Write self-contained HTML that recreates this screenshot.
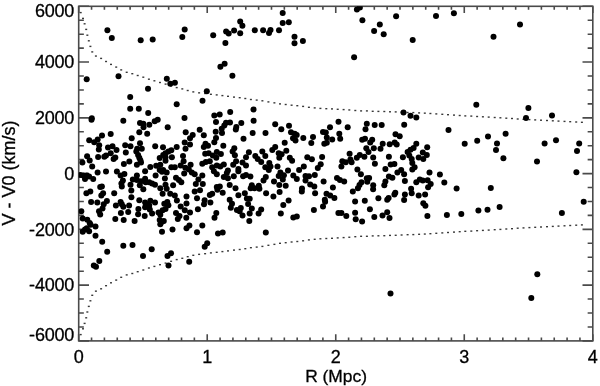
<!DOCTYPE html>
<html><head><meta charset="utf-8"><style>html,body{margin:0;padding:0;background:#fff;width:600px;height:386px;overflow:hidden}svg{display:block}</style></head>
<body><svg style="will-change:transform" width="600" height="386" viewBox="0 0 600 386">
<rect x="78.7" y="6.3" width="514.0999999999999" height="334.59999999999997" fill="none" stroke="#4a4a4a" stroke-width="1.6"/>
<path d="M78.70 340.9v-6.7M78.70 6.3v6.7M91.55 340.9v-3.35M91.55 6.3v3.35M104.41 340.9v-3.35M104.41 6.3v3.35M117.26 340.9v-3.35M117.26 6.3v3.35M130.11 340.9v-3.35M130.11 6.3v3.35M142.96 340.9v-3.35M142.96 6.3v3.35M155.81 340.9v-3.35M155.81 6.3v3.35M168.67 340.9v-3.35M168.67 6.3v3.35M181.52 340.9v-3.35M181.52 6.3v3.35M194.37 340.9v-3.35M194.37 6.3v3.35M207.22 340.9v-6.7M207.22 6.3v6.7M220.08 340.9v-3.35M220.08 6.3v3.35M232.93 340.9v-3.35M232.93 6.3v3.35M245.78 340.9v-3.35M245.78 6.3v3.35M258.63 340.9v-3.35M258.63 6.3v3.35M271.49 340.9v-3.35M271.49 6.3v3.35M284.34 340.9v-3.35M284.34 6.3v3.35M297.19 340.9v-3.35M297.19 6.3v3.35M310.04 340.9v-3.35M310.04 6.3v3.35M322.90 340.9v-3.35M322.90 6.3v3.35M335.75 340.9v-6.7M335.75 6.3v6.7M348.60 340.9v-3.35M348.60 6.3v3.35M361.45 340.9v-3.35M361.45 6.3v3.35M374.31 340.9v-3.35M374.31 6.3v3.35M387.16 340.9v-3.35M387.16 6.3v3.35M400.01 340.9v-3.35M400.01 6.3v3.35M412.86 340.9v-3.35M412.86 6.3v3.35M425.72 340.9v-3.35M425.72 6.3v3.35M438.57 340.9v-3.35M438.57 6.3v3.35M451.42 340.9v-3.35M451.42 6.3v3.35M464.27 340.9v-6.7M464.27 6.3v6.7M477.13 340.9v-3.35M477.13 6.3v3.35M489.98 340.9v-3.35M489.98 6.3v3.35M502.83 340.9v-3.35M502.83 6.3v3.35M515.68 340.9v-3.35M515.68 6.3v3.35M528.54 340.9v-3.35M528.54 6.3v3.35M541.39 340.9v-3.35M541.39 6.3v3.35M554.24 340.9v-3.35M554.24 6.3v3.35M567.09 340.9v-3.35M567.09 6.3v3.35M579.95 340.9v-3.35M579.95 6.3v3.35M592.80 340.9v-6.7M592.80 6.3v6.7M78.7 6.30h10.3M592.8 6.30h-10.3M78.7 20.24h5.15M592.8 20.24h-5.15M78.7 34.18h5.15M592.8 34.18h-5.15M78.7 48.12h5.15M592.8 48.12h-5.15M78.7 62.07h10.3M592.8 62.07h-10.3M78.7 76.01h5.15M592.8 76.01h-5.15M78.7 89.95h5.15M592.8 89.95h-5.15M78.7 103.89h5.15M592.8 103.89h-5.15M78.7 117.83h10.3M592.8 117.83h-10.3M78.7 131.77h5.15M592.8 131.77h-5.15M78.7 145.72h5.15M592.8 145.72h-5.15M78.7 159.66h5.15M592.8 159.66h-5.15M78.7 173.60h10.3M592.8 173.60h-10.3M78.7 187.54h5.15M592.8 187.54h-5.15M78.7 201.48h5.15M592.8 201.48h-5.15M78.7 215.42h5.15M592.8 215.42h-5.15M78.7 229.37h10.3M592.8 229.37h-10.3M78.7 243.31h5.15M592.8 243.31h-5.15M78.7 257.25h5.15M592.8 257.25h-5.15M78.7 271.19h5.15M592.8 271.19h-5.15M78.7 285.13h10.3M592.8 285.13h-10.3M78.7 299.07h5.15M592.8 299.07h-5.15M78.7 313.02h5.15M592.8 313.02h-5.15M78.7 326.96h5.15M592.8 326.96h-5.15M78.7 340.90h10.3M592.8 340.90h-10.3" stroke="#4a4a4a" stroke-width="1.6" fill="none"/>
<g fill="#383838"><rect x="79.70" y="11.90" width="2" height="1.4"/><rect x="79.70" y="333.90" width="2" height="1.4"/><rect x="82.00" y="17.70" width="2" height="1.4"/><rect x="82.00" y="328.10" width="2" height="1.4"/><rect x="83.60" y="23.10" width="2" height="1.4"/><rect x="83.60" y="322.70" width="2" height="1.4"/><rect x="85.20" y="28.70" width="2" height="1.4"/><rect x="85.20" y="317.10" width="2" height="1.4"/><rect x="86.35" y="34.50" width="2" height="1.4"/><rect x="86.35" y="311.30" width="2" height="1.4"/><rect x="87.80" y="40.10" width="2" height="1.4"/><rect x="87.80" y="305.70" width="2" height="1.4"/><rect x="89.40" y="45.70" width="2" height="1.4"/><rect x="89.40" y="300.10" width="2" height="1.4"/><rect x="91.25" y="51.20" width="2" height="1.4"/><rect x="91.25" y="294.60" width="2" height="1.4"/><rect x="94.90" y="55.35" width="2" height="1.4"/><rect x="94.90" y="290.45" width="2" height="1.4"/><rect x="100.10" y="57.70" width="2" height="1.4"/><rect x="100.10" y="288.10" width="2" height="1.4"/><rect x="105.05" y="60.80" width="2" height="1.4"/><rect x="105.05" y="285.00" width="2" height="1.4"/><rect x="110.00" y="63.70" width="2" height="1.4"/><rect x="110.00" y="282.10" width="2" height="1.4"/><rect x="115.20" y="66.40" width="2" height="1.4"/><rect x="115.20" y="279.40" width="2" height="1.4"/><rect x="120.20" y="69.20" width="2" height="1.4"/><rect x="120.20" y="276.60" width="2" height="1.4"/><rect x="125.70" y="71.60" width="2" height="1.4"/><rect x="125.70" y="274.20" width="2" height="1.4"/><rect x="131.30" y="73.00" width="2" height="1.4"/><rect x="131.30" y="272.80" width="2" height="1.4"/><rect x="136.70" y="74.80" width="2" height="1.4"/><rect x="136.70" y="271.00" width="2" height="1.4"/><rect x="142.30" y="76.50" width="2" height="1.4"/><rect x="142.30" y="269.30" width="2" height="1.4"/><rect x="147.90" y="78.50" width="2" height="1.4"/><rect x="147.90" y="267.30" width="2" height="1.4"/><rect x="153.40" y="80.10" width="2" height="1.4"/><rect x="153.40" y="265.70" width="2" height="1.4"/><rect x="159.00" y="81.80" width="2" height="1.4"/><rect x="159.00" y="264.00" width="2" height="1.4"/><rect x="164.60" y="83.40" width="2" height="1.4"/><rect x="164.60" y="262.40" width="2" height="1.4"/><rect x="170.10" y="85.20" width="2" height="1.4"/><rect x="170.10" y="260.60" width="2" height="1.4"/><rect x="175.70" y="86.90" width="2" height="1.4"/><rect x="175.70" y="258.90" width="2" height="1.4"/><rect x="181.30" y="88.20" width="2" height="1.4"/><rect x="181.30" y="257.60" width="2" height="1.4"/><rect x="186.70" y="89.80" width="2" height="1.4"/><rect x="186.70" y="256.00" width="2" height="1.4"/><rect x="192.30" y="91.20" width="2" height="1.4"/><rect x="192.30" y="254.60" width="2" height="1.4"/><rect x="198.10" y="92.15" width="2" height="1.4"/><rect x="198.10" y="253.65" width="2" height="1.4"/><rect x="204.10" y="92.80" width="2" height="1.4"/><rect x="204.10" y="253.00" width="2" height="1.4"/><rect x="209.90" y="93.60" width="2" height="1.4"/><rect x="209.90" y="252.20" width="2" height="1.4"/><rect x="215.70" y="94.20" width="2" height="1.4"/><rect x="215.70" y="251.60" width="2" height="1.4"/><rect x="221.40" y="94.90" width="2" height="1.4"/><rect x="221.40" y="250.90" width="2" height="1.4"/><rect x="227.00" y="95.60" width="2" height="1.4"/><rect x="227.00" y="250.20" width="2" height="1.4"/><rect x="233.00" y="96.40" width="2" height="1.4"/><rect x="233.00" y="249.40" width="2" height="1.4"/><rect x="238.70" y="97.00" width="2" height="1.4"/><rect x="238.70" y="248.80" width="2" height="1.4"/><rect x="244.30" y="97.80" width="2" height="1.4"/><rect x="244.30" y="248.00" width="2" height="1.4"/><rect x="249.90" y="98.80" width="2" height="1.4"/><rect x="249.90" y="247.00" width="2" height="1.4"/><rect x="255.70" y="99.40" width="2" height="1.4"/><rect x="255.70" y="246.40" width="2" height="1.4"/><rect x="261.40" y="100.10" width="2" height="1.4"/><rect x="261.40" y="245.70" width="2" height="1.4"/><rect x="267.40" y="101.20" width="2" height="1.4"/><rect x="267.40" y="244.60" width="2" height="1.4"/><rect x="273.40" y="102.15" width="2" height="1.4"/><rect x="273.40" y="243.65" width="2" height="1.4"/><rect x="279.00" y="103.20" width="2" height="1.4"/><rect x="279.00" y="242.60" width="2" height="1.4"/><rect x="284.70" y="103.80" width="2" height="1.4"/><rect x="284.70" y="242.00" width="2" height="1.4"/><rect x="290.60" y="104.50" width="2" height="1.4"/><rect x="290.60" y="241.30" width="2" height="1.4"/><rect x="296.30" y="105.00" width="2" height="1.4"/><rect x="296.30" y="240.80" width="2" height="1.4"/><rect x="302.10" y="105.70" width="2" height="1.4"/><rect x="302.10" y="240.10" width="2" height="1.4"/><rect x="307.90" y="106.60" width="2" height="1.4"/><rect x="307.90" y="239.20" width="2" height="1.4"/><rect x="313.70" y="107.20" width="2" height="1.4"/><rect x="313.70" y="238.60" width="2" height="1.4"/><rect x="319.40" y="107.70" width="2" height="1.4"/><rect x="319.40" y="238.10" width="2" height="1.4"/><rect x="325.30" y="108.00" width="2" height="1.4"/><rect x="325.30" y="237.80" width="2" height="1.4"/><rect x="331.00" y="108.20" width="2" height="1.4"/><rect x="331.00" y="237.60" width="2" height="1.4"/><rect x="336.70" y="108.60" width="2" height="1.4"/><rect x="336.70" y="237.20" width="2" height="1.4"/><rect x="342.60" y="108.90" width="2" height="1.4"/><rect x="342.60" y="236.90" width="2" height="1.4"/><rect x="348.30" y="109.25" width="2" height="1.4"/><rect x="348.30" y="236.55" width="2" height="1.4"/><rect x="354.30" y="109.80" width="2" height="1.4"/><rect x="354.30" y="236.00" width="2" height="1.4"/><rect x="360.10" y="110.20" width="2" height="1.4"/><rect x="360.10" y="235.60" width="2" height="1.4"/><rect x="365.90" y="110.20" width="2" height="1.4"/><rect x="365.90" y="235.60" width="2" height="1.4"/><rect x="371.70" y="110.60" width="2" height="1.4"/><rect x="371.70" y="235.20" width="2" height="1.4"/><rect x="377.40" y="110.70" width="2" height="1.4"/><rect x="377.40" y="235.10" width="2" height="1.4"/><rect x="383.30" y="110.80" width="2" height="1.4"/><rect x="383.30" y="235.00" width="2" height="1.4"/><rect x="389.00" y="111.10" width="2" height="1.4"/><rect x="389.00" y="234.70" width="2" height="1.4"/><rect x="394.70" y="111.20" width="2" height="1.4"/><rect x="394.70" y="234.60" width="2" height="1.4"/><rect x="400.60" y="111.50" width="2" height="1.4"/><rect x="400.60" y="234.30" width="2" height="1.4"/><rect x="406.60" y="111.80" width="2" height="1.4"/><rect x="406.60" y="234.00" width="2" height="1.4"/><rect x="412.30" y="111.90" width="2" height="1.4"/><rect x="412.30" y="233.90" width="2" height="1.4"/><rect x="418.10" y="112.20" width="2" height="1.4"/><rect x="418.10" y="233.60" width="2" height="1.4"/><rect x="423.80" y="112.45" width="2" height="1.4"/><rect x="423.80" y="233.35" width="2" height="1.4"/><rect x="429.40" y="112.80" width="2" height="1.4"/><rect x="429.40" y="233.00" width="2" height="1.4"/><rect x="435.30" y="113.20" width="2" height="1.4"/><rect x="435.30" y="232.60" width="2" height="1.4"/><rect x="441.30" y="113.60" width="2" height="1.4"/><rect x="441.30" y="232.20" width="2" height="1.4"/><rect x="447.00" y="114.00" width="2" height="1.4"/><rect x="447.00" y="231.80" width="2" height="1.4"/><rect x="453.00" y="114.40" width="2" height="1.4"/><rect x="453.00" y="231.40" width="2" height="1.4"/><rect x="458.70" y="114.80" width="2" height="1.4"/><rect x="458.70" y="231.00" width="2" height="1.4"/><rect x="464.30" y="115.20" width="2" height="1.4"/><rect x="464.30" y="230.60" width="2" height="1.4"/><rect x="470.30" y="115.40" width="2" height="1.4"/><rect x="470.30" y="230.40" width="2" height="1.4"/><rect x="476.10" y="115.80" width="2" height="1.4"/><rect x="476.10" y="230.00" width="2" height="1.4"/><rect x="481.90" y="116.10" width="2" height="1.4"/><rect x="481.90" y="229.70" width="2" height="1.4"/><rect x="487.70" y="116.40" width="2" height="1.4"/><rect x="487.70" y="229.40" width="2" height="1.4"/><rect x="493.70" y="116.80" width="2" height="1.4"/><rect x="493.70" y="229.00" width="2" height="1.4"/><rect x="499.40" y="117.10" width="2" height="1.4"/><rect x="499.40" y="228.70" width="2" height="1.4"/><rect x="505.30" y="117.50" width="2" height="1.4"/><rect x="505.30" y="228.30" width="2" height="1.4"/><rect x="511.00" y="117.80" width="2" height="1.4"/><rect x="511.00" y="228.00" width="2" height="1.4"/><rect x="516.70" y="118.30" width="2" height="1.4"/><rect x="516.70" y="227.50" width="2" height="1.4"/><rect x="522.50" y="118.60" width="2" height="1.4"/><rect x="522.50" y="227.20" width="2" height="1.4"/><rect x="528.40" y="118.90" width="2" height="1.4"/><rect x="528.40" y="226.90" width="2" height="1.4"/><rect x="534.20" y="119.20" width="2" height="1.4"/><rect x="534.20" y="226.60" width="2" height="1.4"/><rect x="540.00" y="119.50" width="2" height="1.4"/><rect x="540.00" y="226.30" width="2" height="1.4"/><rect x="546.00" y="119.80" width="2" height="1.4"/><rect x="546.00" y="226.00" width="2" height="1.4"/><rect x="551.80" y="120.10" width="2" height="1.4"/><rect x="551.80" y="225.70" width="2" height="1.4"/><rect x="557.50" y="120.40" width="2" height="1.4"/><rect x="557.50" y="225.40" width="2" height="1.4"/><rect x="563.50" y="120.70" width="2" height="1.4"/><rect x="563.50" y="225.10" width="2" height="1.4"/><rect x="569.20" y="121.00" width="2" height="1.4"/><rect x="569.20" y="224.80" width="2" height="1.4"/><rect x="575.20" y="121.30" width="2" height="1.4"/><rect x="575.20" y="224.50" width="2" height="1.4"/><rect x="580.90" y="121.60" width="2" height="1.4"/><rect x="580.90" y="224.20" width="2" height="1.4"/></g>
<defs><clipPath id="c"><rect x="78.7" y="6.3" width="514.0999999999999" height="334.59999999999997"/></clipPath></defs>
<g fill="#000" clip-path="url(#c)"><circle cx="107.4" cy="30.3" r="3.0"/><circle cx="111.8" cy="37.9" r="3.0"/><circle cx="140.7" cy="40.3" r="3.0"/><circle cx="152.7" cy="39.4" r="3.0"/><circle cx="184.7" cy="29.4" r="3.0"/><circle cx="182.3" cy="37.0" r="3.0"/><circle cx="86.7" cy="79.3" r="3.0"/><circle cx="118.5" cy="76.2" r="3.0"/><circle cx="166.8" cy="78.8" r="3.0"/><circle cx="170.3" cy="83.8" r="3.0"/><circle cx="174.9" cy="82.7" r="3.0"/><circle cx="213.2" cy="35.3" r="3.0"/><circle cx="225.4" cy="42.9" r="3.0"/><circle cx="226.1" cy="31.4" r="3.0"/><circle cx="228.7" cy="33.5" r="3.0"/><circle cx="234.1" cy="30.5" r="3.0"/><circle cx="240.2" cy="21.6" r="3.0"/><circle cx="242.4" cy="25.7" r="3.0"/><circle cx="240.2" cy="33.3" r="3.0"/><circle cx="254.8" cy="30.3" r="3.0"/><circle cx="263.1" cy="30.3" r="3.0"/><circle cx="269.0" cy="32.9" r="3.0"/><circle cx="270.5" cy="30.0" r="3.0"/><circle cx="279.0" cy="30.3" r="3.0"/><circle cx="282.7" cy="13.1" r="3.0"/><circle cx="282.7" cy="23.1" r="3.0"/><circle cx="288.8" cy="22.2" r="3.0"/><circle cx="294.5" cy="36.8" r="3.0"/><circle cx="294.5" cy="43.3" r="3.0"/><circle cx="302.9" cy="40.9" r="3.0"/><circle cx="220.4" cy="66.8" r="3.0"/><circle cx="224.6" cy="63.8" r="3.0"/><circle cx="232.4" cy="75.8" r="3.0"/><circle cx="356.9" cy="9.4" r="3.0"/><circle cx="359.8" cy="7.6" r="3.0"/><circle cx="362.4" cy="20.2" r="3.0"/><circle cx="379.8" cy="24.6" r="3.0"/><circle cx="374.1" cy="30.9" r="3.0"/><circle cx="383.7" cy="34.2" r="3.0"/><circle cx="396.1" cy="16.3" r="3.0"/><circle cx="412.7" cy="40.1" r="3.0"/><circle cx="436.0" cy="16.1" r="3.0"/><circle cx="453.9" cy="13.3" r="3.0"/><circle cx="354.1" cy="57.3" r="3.0"/><circle cx="493.5" cy="36.8" r="3.0"/><circle cx="520.0" cy="24.4" r="3.0"/><circle cx="148.0" cy="88.7" r="3.0"/><circle cx="176.7" cy="104.2" r="3.0"/><circle cx="130.2" cy="97.0" r="3.0"/><circle cx="130.2" cy="108.8" r="3.0"/><circle cx="138.8" cy="108.8" r="3.0"/><circle cx="148.2" cy="113.0" r="3.0"/><circle cx="91.8" cy="118.3" r="3.0"/><circle cx="91.5" cy="119.8" r="3.0"/><circle cx="123.3" cy="120.8" r="3.0"/><circle cx="140.0" cy="123.0" r="3.0"/><circle cx="143.3" cy="123.7" r="3.0"/><circle cx="143.5" cy="127.2" r="3.0"/><circle cx="149.3" cy="124.7" r="3.0"/><circle cx="154.7" cy="121.3" r="3.0"/><circle cx="157.7" cy="119.7" r="3.0"/><circle cx="167.7" cy="127.2" r="3.0"/><circle cx="102.0" cy="135.5" r="3.0"/><circle cx="110.7" cy="134.0" r="3.0"/><circle cx="139.3" cy="132.2" r="3.0"/><circle cx="147.2" cy="133.7" r="3.0"/><circle cx="131.7" cy="138.3" r="3.0"/><circle cx="89.2" cy="140.3" r="3.0"/><circle cx="94.2" cy="142.3" r="3.0"/><circle cx="97.7" cy="139.5" r="3.0"/><circle cx="99.2" cy="145.3" r="3.0"/><circle cx="108.0" cy="147.5" r="3.0"/><circle cx="112.5" cy="146.3" r="3.0"/><circle cx="116.5" cy="150.0" r="3.0"/><circle cx="125.2" cy="145.3" r="3.0"/><circle cx="130.5" cy="146.3" r="3.0"/><circle cx="140.0" cy="143.3" r="3.0"/><circle cx="137.2" cy="148.7" r="3.0"/><circle cx="141.8" cy="148.7" r="3.0"/><circle cx="155.2" cy="146.3" r="3.0"/><circle cx="163.0" cy="147.2" r="3.0"/><circle cx="176.7" cy="147.0" r="3.0"/><circle cx="206.8" cy="91.3" r="3.0"/><circle cx="202.5" cy="100.8" r="3.0"/><circle cx="184.5" cy="118.0" r="3.0"/><circle cx="214.3" cy="115.5" r="3.0"/><circle cx="219.7" cy="114.5" r="3.0"/><circle cx="230.2" cy="112.0" r="3.0"/><circle cx="253.5" cy="109.5" r="3.0"/><circle cx="216.0" cy="122.0" r="3.0"/><circle cx="226.0" cy="122.8" r="3.0"/><circle cx="230.0" cy="122.5" r="3.0"/><circle cx="224.3" cy="125.5" r="3.0"/><circle cx="221.7" cy="128.7" r="3.0"/><circle cx="241.3" cy="123.0" r="3.0"/><circle cx="253.6" cy="120.7" r="3.0"/><circle cx="236.3" cy="127.0" r="3.0"/><circle cx="235.8" cy="129.5" r="3.0"/><circle cx="275.2" cy="124.2" r="3.0"/><circle cx="199.7" cy="129.7" r="3.0"/><circle cx="185.7" cy="132.2" r="3.0"/><circle cx="192.7" cy="135.0" r="3.0"/><circle cx="190.0" cy="138.3" r="3.0"/><circle cx="203.8" cy="135.3" r="3.0"/><circle cx="215.7" cy="131.7" r="3.0"/><circle cx="222.0" cy="133.0" r="3.0"/><circle cx="216.0" cy="138.0" r="3.0"/><circle cx="214.3" cy="142.2" r="3.0"/><circle cx="252.7" cy="133.0" r="3.0"/><circle cx="265.5" cy="133.0" r="3.0"/><circle cx="243.5" cy="138.8" r="3.0"/><circle cx="184.7" cy="142.5" r="3.0"/><circle cx="190.0" cy="144.5" r="3.0"/><circle cx="205.5" cy="143.7" r="3.0"/><circle cx="203.8" cy="147.0" r="3.0"/><circle cx="208.0" cy="145.8" r="3.0"/><circle cx="223.3" cy="145.8" r="3.0"/><circle cx="234.3" cy="148.3" r="3.0"/><circle cx="185.5" cy="148.7" r="3.0"/><circle cx="275.2" cy="147.0" r="3.0"/><circle cx="281.3" cy="129.2" r="3.0"/><circle cx="289.0" cy="125.8" r="3.0"/><circle cx="291.0" cy="132.2" r="3.0"/><circle cx="294.7" cy="133.8" r="3.0"/><circle cx="296.7" cy="135.0" r="3.0"/><circle cx="293.0" cy="138.3" r="3.0"/><circle cx="295.5" cy="140.5" r="3.0"/><circle cx="303.3" cy="138.0" r="3.0"/><circle cx="284.7" cy="142.8" r="3.0"/><circle cx="313.0" cy="137.0" r="3.0"/><circle cx="311.3" cy="143.0" r="3.0"/><circle cx="323.0" cy="132.0" r="3.0"/><circle cx="325.8" cy="132.5" r="3.0"/><circle cx="330.0" cy="127.2" r="3.0"/><circle cx="338.5" cy="121.7" r="3.0"/><circle cx="347.7" cy="127.2" r="3.0"/><circle cx="326.8" cy="137.5" r="3.0"/><circle cx="332.2" cy="139.5" r="3.0"/><circle cx="326.8" cy="142.8" r="3.0"/><circle cx="324.3" cy="143.7" r="3.0"/><circle cx="339.3" cy="133.7" r="3.0"/><circle cx="340.2" cy="138.8" r="3.0"/><circle cx="366.8" cy="123.7" r="3.0"/><circle cx="365.5" cy="129.2" r="3.0"/><circle cx="374.7" cy="125.0" r="3.0"/><circle cx="362.2" cy="139.7" r="3.0"/><circle cx="365.0" cy="138.7" r="3.0"/><circle cx="372.2" cy="139.7" r="3.0"/><circle cx="370.2" cy="142.5" r="3.0"/><circle cx="366.3" cy="148.3" r="3.0"/><circle cx="373.8" cy="148.3" r="3.0"/><circle cx="476.3" cy="104.7" r="3.0"/><circle cx="403.5" cy="112.5" r="3.0"/><circle cx="410.5" cy="115.8" r="3.0"/><circle cx="416.3" cy="117.5" r="3.0"/><circle cx="381.7" cy="125.0" r="3.0"/><circle cx="404.2" cy="124.7" r="3.0"/><circle cx="448.5" cy="130.0" r="3.0"/><circle cx="395.5" cy="134.2" r="3.0"/><circle cx="399.7" cy="136.3" r="3.0"/><circle cx="382.7" cy="143.8" r="3.0"/><circle cx="389.7" cy="144.2" r="3.0"/><circle cx="394.7" cy="142.5" r="3.0"/><circle cx="396.7" cy="144.5" r="3.0"/><circle cx="416.3" cy="143.7" r="3.0"/><circle cx="413.6" cy="148.0" r="3.0"/><circle cx="427.2" cy="147.2" r="3.0"/><circle cx="464.7" cy="143.7" r="3.0"/><circle cx="477.2" cy="140.8" r="3.0"/><circle cx="380.5" cy="148.7" r="3.0"/><circle cx="528.4" cy="108.0" r="3.0"/><circle cx="526.0" cy="118.0" r="3.0"/><circle cx="552.0" cy="115.4" r="3.0"/><circle cx="488.0" cy="136.4" r="3.0"/><circle cx="505.6" cy="133.8" r="3.0"/><circle cx="497.0" cy="143.6" r="3.0"/><circle cx="496.0" cy="150.0" r="3.0"/><circle cx="503.4" cy="158.2" r="3.0"/><circle cx="544.6" cy="143.4" r="3.0"/><circle cx="556.0" cy="140.2" r="3.0"/><circle cx="579.2" cy="143.6" r="3.0"/><circle cx="577.0" cy="151.0" r="3.0"/><circle cx="537.0" cy="161.6" r="3.0"/><circle cx="98.8" cy="149.4" r="3.0"/><circle cx="125.8" cy="152.6" r="3.0"/><circle cx="110.7" cy="153.2" r="3.0"/><circle cx="98.1" cy="156.9" r="3.0"/><circle cx="104.3" cy="156.7" r="3.0"/><circle cx="106.0" cy="155.5" r="3.0"/><circle cx="113.6" cy="159.0" r="3.0"/><circle cx="115.3" cy="157.6" r="3.0"/><circle cx="87.1" cy="156.3" r="3.0"/><circle cx="89.7" cy="160.5" r="3.0"/><circle cx="82.4" cy="162.5" r="3.0"/><circle cx="92.2" cy="166.6" r="3.0"/><circle cx="123.9" cy="163.9" r="3.0"/><circle cx="129.3" cy="161.6" r="3.0"/><circle cx="136.3" cy="151.4" r="3.0"/><circle cx="138.1" cy="154.9" r="3.0"/><circle cx="139.3" cy="157.8" r="3.0"/><circle cx="140.4" cy="160.2" r="3.0"/><circle cx="141.0" cy="162.5" r="3.0"/><circle cx="136.9" cy="164.8" r="3.0"/><circle cx="97.6" cy="172.4" r="3.0"/><circle cx="106.0" cy="171.6" r="3.0"/><circle cx="116.9" cy="171.6" r="3.0"/><circle cx="120.6" cy="175.6" r="3.0"/><circle cx="124.4" cy="173.9" r="3.0"/><circle cx="80.3" cy="175.1" r="3.0"/><circle cx="83.3" cy="175.6" r="3.0"/><circle cx="86.8" cy="175.6" r="3.0"/><circle cx="89.1" cy="176.5" r="3.0"/><circle cx="85.0" cy="179.1" r="3.0"/><circle cx="93.2" cy="179.1" r="3.0"/><circle cx="122.9" cy="180.6" r="3.0"/><circle cx="121.4" cy="183.5" r="3.0"/><circle cx="121.8" cy="186.4" r="3.0"/><circle cx="145.1" cy="171.3" r="3.0"/><circle cx="136.9" cy="175.6" r="3.0"/><circle cx="132.8" cy="179.4" r="3.0"/><circle cx="136.9" cy="180.0" r="3.0"/><circle cx="141.0" cy="181.2" r="3.0"/><circle cx="145.1" cy="178.8" r="3.0"/><circle cx="145.7" cy="182.3" r="3.0"/><circle cx="130.5" cy="184.7" r="3.0"/><circle cx="139.8" cy="185.3" r="3.0"/><circle cx="100.2" cy="187.0" r="3.0"/><circle cx="101.9" cy="186.4" r="3.0"/><circle cx="90.3" cy="191.5" r="3.0"/><circle cx="143.3" cy="189.3" r="3.0"/><circle cx="131.3" cy="190.6" r="3.0"/><circle cx="171.3" cy="150.3" r="3.0"/><circle cx="168.4" cy="151.4" r="3.0"/><circle cx="165.5" cy="153.2" r="3.0"/><circle cx="163.2" cy="154.9" r="3.0"/><circle cx="159.7" cy="158.1" r="3.0"/><circle cx="165.5" cy="157.3" r="3.0"/><circle cx="165.5" cy="160.8" r="3.0"/><circle cx="171.9" cy="157.3" r="3.0"/><circle cx="183.0" cy="156.1" r="3.0"/><circle cx="183.6" cy="161.3" r="3.0"/><circle cx="180.7" cy="165.4" r="3.0"/><circle cx="185.3" cy="167.8" r="3.0"/><circle cx="190.6" cy="164.8" r="3.0"/><circle cx="188.8" cy="169.5" r="3.0"/><circle cx="191.8" cy="172.4" r="3.0"/><circle cx="194.7" cy="174.2" r="3.0"/><circle cx="184.2" cy="173.6" r="3.0"/><circle cx="171.3" cy="167.2" r="3.0"/><circle cx="174.8" cy="167.2" r="3.0"/><circle cx="150.3" cy="166.9" r="3.0"/><circle cx="156.2" cy="165.8" r="3.0"/><circle cx="160.3" cy="164.8" r="3.0"/><circle cx="159.7" cy="170.1" r="3.0"/><circle cx="163.2" cy="170.1" r="3.0"/><circle cx="166.7" cy="172.4" r="3.0"/><circle cx="162.0" cy="171.8" r="3.0"/><circle cx="155.6" cy="175.6" r="3.0"/><circle cx="164.9" cy="178.6" r="3.0"/><circle cx="176.0" cy="177.7" r="3.0"/><circle cx="178.9" cy="180.0" r="3.0"/><circle cx="181.3" cy="182.3" r="3.0"/><circle cx="173.1" cy="185.3" r="3.0"/><circle cx="165.5" cy="184.7" r="3.0"/><circle cx="152.1" cy="183.5" r="3.0"/><circle cx="155.0" cy="184.7" r="3.0"/><circle cx="160.3" cy="188.2" r="3.0"/><circle cx="166.7" cy="188.8" r="3.0"/><circle cx="149.2" cy="182.3" r="3.0"/><circle cx="205.2" cy="153.8" r="3.0"/><circle cx="208.7" cy="153.2" r="3.0"/><circle cx="212.8" cy="155.5" r="3.0"/><circle cx="216.3" cy="157.8" r="3.0"/><circle cx="216.8" cy="152.0" r="3.0"/><circle cx="202.3" cy="163.7" r="3.0"/><circle cx="205.8" cy="161.9" r="3.0"/><circle cx="209.8" cy="161.3" r="3.0"/><circle cx="212.2" cy="167.2" r="3.0"/><circle cx="213.9" cy="171.3" r="3.0"/><circle cx="216.8" cy="174.2" r="3.0"/><circle cx="216.8" cy="165.4" r="3.0"/><circle cx="202.3" cy="175.6" r="3.0"/><circle cx="198.4" cy="179.4" r="3.0"/><circle cx="195.8" cy="184.1" r="3.0"/><circle cx="202.8" cy="184.1" r="3.0"/><circle cx="200.0" cy="190.2" r="3.0"/><circle cx="194.7" cy="191.5" r="3.0"/><circle cx="216.8" cy="187.0" r="3.0"/><circle cx="232.6" cy="151.4" r="3.0"/><circle cx="234.9" cy="155.3" r="3.0"/><circle cx="248.9" cy="152.2" r="3.0"/><circle cx="246.0" cy="157.3" r="3.0"/><circle cx="220.9" cy="154.1" r="3.0"/><circle cx="255.3" cy="156.1" r="3.0"/><circle cx="257.7" cy="159.0" r="3.0"/><circle cx="262.3" cy="151.4" r="3.0"/><circle cx="265.3" cy="156.1" r="3.0"/><circle cx="261.2" cy="161.9" r="3.0"/><circle cx="272.3" cy="149.9" r="3.0"/><circle cx="278.7" cy="153.2" r="3.0"/><circle cx="281.6" cy="154.3" r="3.0"/><circle cx="279.3" cy="157.8" r="3.0"/><circle cx="286.3" cy="150.8" r="3.0"/><circle cx="236.1" cy="161.3" r="3.0"/><circle cx="233.2" cy="164.8" r="3.0"/><circle cx="242.5" cy="162.5" r="3.0"/><circle cx="246.0" cy="165.4" r="3.0"/><circle cx="223.8" cy="164.6" r="3.0"/><circle cx="220.3" cy="166.6" r="3.0"/><circle cx="238.4" cy="168.9" r="3.0"/><circle cx="238.4" cy="171.3" r="3.0"/><circle cx="227.9" cy="170.4" r="3.0"/><circle cx="226.8" cy="173.0" r="3.0"/><circle cx="223.8" cy="177.1" r="3.0"/><circle cx="227.9" cy="178.3" r="3.0"/><circle cx="233.8" cy="176.3" r="3.0"/><circle cx="243.1" cy="176.3" r="3.0"/><circle cx="246.0" cy="175.1" r="3.0"/><circle cx="250.4" cy="176.5" r="3.0"/><circle cx="265.3" cy="167.2" r="3.0"/><circle cx="269.3" cy="163.1" r="3.0"/><circle cx="270.5" cy="166.6" r="3.0"/><circle cx="268.8" cy="170.1" r="3.0"/><circle cx="277.5" cy="166.6" r="3.0"/><circle cx="288.0" cy="170.4" r="3.0"/><circle cx="280.4" cy="172.4" r="3.0"/><circle cx="278.7" cy="175.9" r="3.0"/><circle cx="283.9" cy="175.3" r="3.0"/><circle cx="282.8" cy="179.4" r="3.0"/><circle cx="265.8" cy="177.1" r="3.0"/><circle cx="263.5" cy="180.6" r="3.0"/><circle cx="274.0" cy="181.4" r="3.0"/><circle cx="279.3" cy="184.9" r="3.0"/><circle cx="285.7" cy="185.8" r="3.0"/><circle cx="229.7" cy="184.9" r="3.0"/><circle cx="219.8" cy="186.4" r="3.0"/><circle cx="235.5" cy="188.2" r="3.0"/><circle cx="251.8" cy="185.3" r="3.0"/><circle cx="250.7" cy="188.2" r="3.0"/><circle cx="258.8" cy="185.8" r="3.0"/><circle cx="259.4" cy="188.8" r="3.0"/><circle cx="289.8" cy="157.8" r="3.0"/><circle cx="292.1" cy="160.8" r="3.0"/><circle cx="307.3" cy="157.3" r="3.0"/><circle cx="311.9" cy="159.2" r="3.0"/><circle cx="322.1" cy="156.9" r="3.0"/><circle cx="303.8" cy="166.4" r="3.0"/><circle cx="299.1" cy="170.1" r="3.0"/><circle cx="320.7" cy="164.3" r="3.0"/><circle cx="317.8" cy="168.1" r="3.0"/><circle cx="293.3" cy="175.6" r="3.0"/><circle cx="296.8" cy="179.1" r="3.0"/><circle cx="305.5" cy="175.9" r="3.0"/><circle cx="309.0" cy="176.3" r="3.0"/><circle cx="305.5" cy="180.6" r="3.0"/><circle cx="314.8" cy="175.1" r="3.0"/><circle cx="310.2" cy="184.4" r="3.0"/><circle cx="314.3" cy="186.4" r="3.0"/><circle cx="323.6" cy="181.4" r="3.0"/><circle cx="302.0" cy="188.4" r="3.0"/><circle cx="332.9" cy="187.6" r="3.0"/><circle cx="337.0" cy="177.9" r="3.0"/><circle cx="339.9" cy="180.0" r="3.0"/><circle cx="344.2" cy="181.4" r="3.0"/><circle cx="349.6" cy="153.8" r="3.0"/><circle cx="356.8" cy="157.8" r="3.0"/><circle cx="350.4" cy="159.6" r="3.0"/><circle cx="351.6" cy="162.3" r="3.0"/><circle cx="342.3" cy="161.3" r="3.0"/><circle cx="345.8" cy="162.3" r="3.0"/><circle cx="341.4" cy="166.4" r="3.0"/><circle cx="357.4" cy="169.5" r="3.0"/><circle cx="357.9" cy="188.2" r="3.0"/><circle cx="368.5" cy="152.0" r="3.0"/><circle cx="359.8" cy="154.9" r="3.0"/><circle cx="364.4" cy="156.7" r="3.0"/><circle cx="373.2" cy="157.6" r="3.0"/><circle cx="374.9" cy="163.7" r="3.0"/><circle cx="388.9" cy="156.7" r="3.0"/><circle cx="402.9" cy="157.3" r="3.0"/><circle cx="407.6" cy="152.0" r="3.0"/><circle cx="410.5" cy="149.7" r="3.0"/><circle cx="409.3" cy="155.5" r="3.0"/><circle cx="411.7" cy="159.0" r="3.0"/><circle cx="412.3" cy="163.1" r="3.0"/><circle cx="414.6" cy="167.2" r="3.0"/><circle cx="412.3" cy="169.5" r="3.0"/><circle cx="418.7" cy="157.6" r="3.0"/><circle cx="422.8" cy="152.6" r="3.0"/><circle cx="423.3" cy="159.0" r="3.0"/><circle cx="426.8" cy="154.9" r="3.0"/><circle cx="390.7" cy="164.6" r="3.0"/><circle cx="394.4" cy="163.9" r="3.0"/><circle cx="385.4" cy="168.9" r="3.0"/><circle cx="397.4" cy="172.4" r="3.0"/><circle cx="401.2" cy="170.1" r="3.0"/><circle cx="404.1" cy="174.2" r="3.0"/><circle cx="388.9" cy="176.5" r="3.0"/><circle cx="392.4" cy="177.7" r="3.0"/><circle cx="404.9" cy="180.9" r="3.0"/><circle cx="385.4" cy="181.4" r="3.0"/><circle cx="384.3" cy="185.3" r="3.0"/><circle cx="360.9" cy="174.2" r="3.0"/><circle cx="366.8" cy="178.3" r="3.0"/><circle cx="369.1" cy="177.9" r="3.0"/><circle cx="367.3" cy="181.8" r="3.0"/><circle cx="361.5" cy="182.3" r="3.0"/><circle cx="373.2" cy="185.3" r="3.0"/><circle cx="373.1" cy="189.3" r="3.0"/><circle cx="416.3" cy="182.3" r="3.0"/><circle cx="419.8" cy="179.4" r="3.0"/><circle cx="422.8" cy="180.6" r="3.0"/><circle cx="427.6" cy="180.2" r="3.0"/><circle cx="428.1" cy="187.2" r="3.0"/><circle cx="411.1" cy="188.8" r="3.0"/><circle cx="429.5" cy="172.4" r="3.0"/><circle cx="439.9" cy="174.4" r="3.0"/><circle cx="444.3" cy="182.6" r="3.0"/><circle cx="456.6" cy="188.4" r="3.0"/><circle cx="490.8" cy="187.9" r="3.0"/><circle cx="430.7" cy="184.0" r="3.0"/><circle cx="86.4" cy="193.3" r="3.0"/><circle cx="101.3" cy="195.6" r="3.0"/><circle cx="103.1" cy="193.3" r="3.0"/><circle cx="114.2" cy="193.3" r="3.0"/><circle cx="131.4" cy="197.3" r="3.0"/><circle cx="139.3" cy="200.3" r="3.0"/><circle cx="91.1" cy="202.0" r="3.0"/><circle cx="97.3" cy="202.6" r="3.0"/><circle cx="106.9" cy="201.1" r="3.0"/><circle cx="103.7" cy="204.3" r="3.0"/><circle cx="102.5" cy="208.4" r="3.0"/><circle cx="99.0" cy="211.3" r="3.0"/><circle cx="100.2" cy="214.6" r="3.0"/><circle cx="81.3" cy="211.3" r="3.0"/><circle cx="115.9" cy="205.5" r="3.0"/><circle cx="120.6" cy="202.0" r="3.0"/><circle cx="121.8" cy="204.3" r="3.0"/><circle cx="123.3" cy="206.7" r="3.0"/><circle cx="129.1" cy="205.5" r="3.0"/><circle cx="120.9" cy="213.1" r="3.0"/><circle cx="128.2" cy="211.9" r="3.0"/><circle cx="138.4" cy="209.0" r="3.0"/><circle cx="138.1" cy="214.3" r="3.0"/><circle cx="145.1" cy="202.6" r="3.0"/><circle cx="145.1" cy="207.3" r="3.0"/><circle cx="144.7" cy="216.0" r="3.0"/><circle cx="115.3" cy="218.9" r="3.0"/><circle cx="123.7" cy="220.1" r="3.0"/><circle cx="134.6" cy="220.9" r="3.0"/><circle cx="82.7" cy="218.6" r="3.0"/><circle cx="87.3" cy="219.7" r="3.0"/><circle cx="89.7" cy="223.0" r="3.0"/><circle cx="90.6" cy="224.8" r="3.0"/><circle cx="95.5" cy="226.5" r="3.0"/><circle cx="85.0" cy="229.4" r="3.0"/><circle cx="82.7" cy="231.8" r="3.0"/><circle cx="89.1" cy="231.2" r="3.0"/><circle cx="86.8" cy="228.3" r="3.0"/><circle cx="162.6" cy="193.8" r="3.0"/><circle cx="170.2" cy="193.8" r="3.0"/><circle cx="174.8" cy="195.6" r="3.0"/><circle cx="176.9" cy="200.6" r="3.0"/><circle cx="186.5" cy="196.4" r="3.0"/><circle cx="197.0" cy="198.3" r="3.0"/><circle cx="209.8" cy="195.0" r="3.0"/><circle cx="212.2" cy="193.8" r="3.0"/><circle cx="217.4" cy="189.8" r="3.0"/><circle cx="204.6" cy="200.3" r="3.0"/><circle cx="204.0" cy="204.3" r="3.0"/><circle cx="210.4" cy="202.6" r="3.0"/><circle cx="186.5" cy="203.4" r="3.0"/><circle cx="180.7" cy="206.4" r="3.0"/><circle cx="184.8" cy="210.2" r="3.0"/><circle cx="190.0" cy="212.5" r="3.0"/><circle cx="197.9" cy="209.2" r="3.0"/><circle cx="150.3" cy="200.8" r="3.0"/><circle cx="155.0" cy="202.6" r="3.0"/><circle cx="149.2" cy="205.5" r="3.0"/><circle cx="149.8" cy="209.6" r="3.0"/><circle cx="152.1" cy="213.4" r="3.0"/><circle cx="164.3" cy="203.8" r="3.0"/><circle cx="167.3" cy="202.0" r="3.0"/><circle cx="168.4" cy="205.3" r="3.0"/><circle cx="165.5" cy="209.0" r="3.0"/><circle cx="162.6" cy="210.2" r="3.0"/><circle cx="158.5" cy="212.5" r="3.0"/><circle cx="160.3" cy="214.8" r="3.0"/><circle cx="176.0" cy="213.1" r="3.0"/><circle cx="179.5" cy="216.0" r="3.0"/><circle cx="177.8" cy="218.9" r="3.0"/><circle cx="186.3" cy="217.8" r="3.0"/><circle cx="159.7" cy="220.1" r="3.0"/><circle cx="163.8" cy="220.9" r="3.0"/><circle cx="160.3" cy="224.2" r="3.0"/><circle cx="162.0" cy="221.8" r="3.0"/><circle cx="172.5" cy="229.4" r="3.0"/><circle cx="162.0" cy="231.8" r="3.0"/><circle cx="186.5" cy="228.3" r="3.0"/><circle cx="189.4" cy="225.6" r="3.0"/><circle cx="202.3" cy="225.6" r="3.0"/><circle cx="197.0" cy="232.3" r="3.0"/><circle cx="216.3" cy="213.1" r="3.0"/><circle cx="214.5" cy="217.8" r="3.0"/><circle cx="218.0" cy="233.6" r="3.0"/><circle cx="254.5" cy="188.3" r="3.0"/><circle cx="222.7" cy="192.7" r="3.0"/><circle cx="238.4" cy="195.2" r="3.0"/><circle cx="244.8" cy="193.3" r="3.0"/><circle cx="246.9" cy="198.5" r="3.0"/><circle cx="249.7" cy="198.7" r="3.0"/><circle cx="248.1" cy="204.1" r="3.0"/><circle cx="251.8" cy="208.4" r="3.0"/><circle cx="249.7" cy="213.4" r="3.0"/><circle cx="249.3" cy="220.9" r="3.0"/><circle cx="242.5" cy="215.4" r="3.0"/><circle cx="239.6" cy="211.3" r="3.0"/><circle cx="236.9" cy="209.9" r="3.0"/><circle cx="240.8" cy="208.1" r="3.0"/><circle cx="229.7" cy="199.7" r="3.0"/><circle cx="232.0" cy="203.8" r="3.0"/><circle cx="230.8" cy="207.8" r="3.0"/><circle cx="261.2" cy="209.6" r="3.0"/><circle cx="258.6" cy="213.4" r="3.0"/><circle cx="266.1" cy="193.3" r="3.0"/><circle cx="273.4" cy="196.4" r="3.0"/><circle cx="279.6" cy="192.1" r="3.0"/><circle cx="288.6" cy="200.4" r="3.0"/><circle cx="283.3" cy="204.9" r="3.0"/><circle cx="280.8" cy="213.4" r="3.0"/><circle cx="222.7" cy="232.6" r="3.0"/><circle cx="265.8" cy="232.6" r="3.0"/><circle cx="301.8" cy="191.5" r="3.0"/><circle cx="315.1" cy="193.3" r="3.0"/><circle cx="326.5" cy="193.8" r="3.0"/><circle cx="330.2" cy="195.6" r="3.0"/><circle cx="334.4" cy="197.9" r="3.0"/><circle cx="324.8" cy="199.7" r="3.0"/><circle cx="325.1" cy="201.8" r="3.0"/><circle cx="323.0" cy="206.4" r="3.0"/><circle cx="313.9" cy="209.9" r="3.0"/><circle cx="293.3" cy="217.4" r="3.0"/><circle cx="296.8" cy="216.6" r="3.0"/><circle cx="338.4" cy="213.1" r="3.0"/><circle cx="341.4" cy="213.1" r="3.0"/><circle cx="346.3" cy="216.0" r="3.0"/><circle cx="352.8" cy="191.5" r="3.0"/><circle cx="355.1" cy="201.4" r="3.0"/><circle cx="355.1" cy="212.7" r="3.0"/><circle cx="355.7" cy="219.3" r="3.0"/><circle cx="411.7" cy="193.3" r="3.0"/><circle cx="364.8" cy="200.8" r="3.0"/><circle cx="378.4" cy="198.3" r="3.0"/><circle cx="387.2" cy="199.7" r="3.0"/><circle cx="388.6" cy="197.9" r="3.0"/><circle cx="394.4" cy="194.4" r="3.0"/><circle cx="395.3" cy="192.7" r="3.0"/><circle cx="404.9" cy="194.4" r="3.0"/><circle cx="404.1" cy="199.9" r="3.0"/><circle cx="418.7" cy="195.6" r="3.0"/><circle cx="425.1" cy="194.4" r="3.0"/><circle cx="423.3" cy="203.2" r="3.0"/><circle cx="425.4" cy="205.7" r="3.0"/><circle cx="369.9" cy="209.2" r="3.0"/><circle cx="374.3" cy="216.9" r="3.0"/><circle cx="382.5" cy="215.4" r="3.0"/><circle cx="387.2" cy="212.3" r="3.0"/><circle cx="389.5" cy="218.1" r="3.0"/><circle cx="362.1" cy="221.6" r="3.0"/><circle cx="427.4" cy="216.0" r="3.0"/><circle cx="446.9" cy="215.1" r="3.0"/><circle cx="461.3" cy="213.9" r="3.0"/><circle cx="478.4" cy="210.4" r="3.0"/><circle cx="487.5" cy="209.8" r="3.0"/><circle cx="576.4" cy="172.2" r="3.0"/><circle cx="583.7" cy="201.7" r="3.0"/><circle cx="561.9" cy="213.0" r="3.0"/><circle cx="95.5" cy="235.8" r="3.0"/><circle cx="102.2" cy="241.7" r="3.0"/><circle cx="107.2" cy="251.8" r="3.0"/><circle cx="123.3" cy="245.8" r="3.0"/><circle cx="132.5" cy="245.0" r="3.0"/><circle cx="143.0" cy="256.0" r="3.0"/><circle cx="151.7" cy="249.3" r="3.0"/><circle cx="167.5" cy="256.0" r="3.0"/><circle cx="171.0" cy="253.3" r="3.0"/><circle cx="168.5" cy="265.5" r="3.0"/><circle cx="93.8" cy="265.5" r="3.0"/><circle cx="96.0" cy="266.7" r="3.0"/><circle cx="99.3" cy="261.0" r="3.0"/><circle cx="207.2" cy="243.3" r="3.0"/><circle cx="204.7" cy="246.7" r="3.0"/><circle cx="189.2" cy="261.8" r="3.0"/><circle cx="537.3" cy="274.3" r="3.0"/><circle cx="531.3" cy="298.0" r="3.0"/><circle cx="390.5" cy="293.5" r="3.0"/><circle cx="499.6" cy="207.0" r="3.0"/><circle cx="359.5" cy="185.0" r="3.0"/></g>
<g style="font-family:&quot;Liberation Sans&quot;,sans-serif;font-size:18px" fill="#000" stroke="#000" stroke-width="0.3"><text x="78.7" y="363" text-anchor="middle">0</text><text x="207.2" y="363" text-anchor="middle">1</text><text x="335.7" y="363" text-anchor="middle">2</text><text x="464.3" y="363" text-anchor="middle">3</text><text x="592.8" y="363" text-anchor="middle">4</text><text x="73.9" y="16.9" text-anchor="end" letter-spacing="-0.3">6000</text><text x="73.9" y="67.8" text-anchor="end" letter-spacing="-0.3">4000</text><text x="73.9" y="124.2" text-anchor="end" letter-spacing="-0.3">2000</text><text x="73.9" y="179.9" text-anchor="end" letter-spacing="-0.3">0</text><text x="73.9" y="236.0" text-anchor="end" letter-spacing="-0.3">-<tspan dx="0.4">2000</tspan></text><text x="73.9" y="291.4" text-anchor="end" letter-spacing="-0.3">-<tspan dx="0.4">4000</tspan></text><text x="73.9" y="341.0" text-anchor="end" letter-spacing="-0.3">-<tspan dx="0.4">6000</tspan></text><text x="336.1" y="382" text-anchor="middle" style="font-size:17.4px">R (Mpc)</text><text transform="translate(15.4,173.0) rotate(-90)" x="0" y="0" text-anchor="middle">V - V0 (km/s)</text></g>
</svg></body></html>
